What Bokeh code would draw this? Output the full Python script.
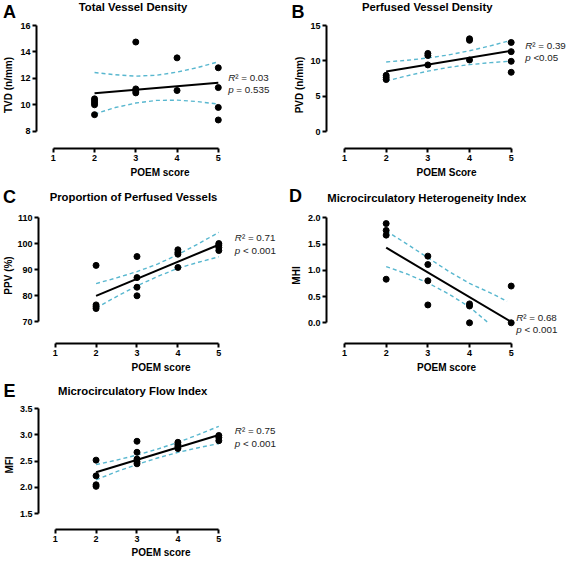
from bokeh.plotting import figure
from bokeh.layouts import column, row
from bokeh.models import Range1d, FixedTicker, NumeralTickFormatter, Label
from bokeh.embed import file_html
from bokeh.resources import INLINE

FONT = "Liberation Sans"
CI_COLOR = "#58b7cf"
ANN_COLOR = "#222222"

# ---------------- data ----------------
poem_ticks = [1, 2, 3, 4, 5]
fit_x = [2, 5]
ci_x = [2, 2.5, 3, 3.5, 4, 4.5, 5]

# A: Total Vessel Density
tvd_x = [2, 2, 2, 2, 2, 3, 3, 3, 3, 4, 4, 5, 5, 5, 5]
tvd_y = [10.45, 10.3, 10.15, 10.0, 9.25, 14.75, 11.2, 11.05, 10.9, 13.55, 11.08, 12.8, 11.3, 9.8, 8.85]
tvd_fit = [10.88, 11.66]
tvd_ci_up = [12.44, 12.27, 12.17, 12.23, 12.47, 12.82, 13.25]
tvd_ci_lo = [9.3, 9.79, 10.13, 10.33, 10.35, 10.24, 10.05]
tvd_ticks = [8, 10, 12, 14, 16]

# B: Perfused Vessel Density
pvd_x = [2, 2, 2, 3, 3, 3, 4, 4, 4, 5, 5, 5, 5]
pvd_y = [7.95, 7.65, 7.35, 11.05, 10.75, 9.42, 13.12, 12.9, 10.12, 12.6, 11.3, 9.93, 8.38]
pvd_fit = [8.49, 11.42]
pvd_ci_up = [9.84, 10.08, 10.40, 10.84, 11.42, 12.12, 12.9]
pvd_ci_lo = [7.12, 7.88, 8.54, 9.08, 9.46, 9.74, 9.96]
pvd_ticks = [0, 5, 10, 15]

# C: Proportion of Perfused Vessels
ppv_x = [2, 2, 2, 2, 3, 3, 3, 3, 4, 4, 4, 4, 5, 5, 5, 5]
ppv_y = [91.7, 76.5, 75.8, 75.1, 95.1, 87.0, 83.3, 80.0, 97.7, 96.7, 96.0, 90.9, 100.1, 99.5, 98.6, 97.4]
ppv_fit = [80.0, 99.65]
ppv_ci_up = [84.7, 86.9, 89.3, 92.2, 95.85, 100.0, 104.4]
ppv_ci_lo = [75.3, 79.7, 83.8, 87.4, 90.6, 92.9, 95.0]
ppv_ticks = [70, 80, 90, 100, 110]

# D: Microcirculatory Heterogeneity Index
mhi_x = [2, 2, 2, 2, 3, 3, 3, 3, 4, 4, 4, 5, 5]
mhi_y = [1.89, 1.76, 1.67, 0.83, 1.27, 1.11, 0.80, 0.34, 0.36, 0.32, 0.0, 0.70, 0.0]
mhi_fit = [1.43, 0.02]
mhi_ci_up_x = [2, 2.5, 3, 3.5, 4, 4.5, 4.9]
mhi_ci_up = [1.75, 1.50, 1.24, 0.98, 0.75, 0.57, 0.41]
mhi_ci_lo_x = [2, 2.5, 3, 3.5, 4, 4.45]
mhi_ci_lo = [1.07, 0.93, 0.76, 0.55, 0.30, 0.0]
mhi_ticks = [0.0, 0.5, 1.0, 1.5, 2.0]

# E: Microcirculatory Flow Index
mfi_x = [2, 2, 2, 2, 3, 3, 3, 3, 3, 4, 4, 4, 4, 5, 5, 5]
mfi_y = [2.52, 2.22, 2.05, 2.02, 2.88, 2.67, 2.54, 2.49, 2.45, 2.86, 2.82, 2.78, 2.74, 2.99, 2.95, 2.89]
mfi_fit = [2.29, 3.0]
mfi_ci_up = [2.435, 2.52, 2.617, 2.73, 2.858, 3.007, 3.165]
mfi_ci_lo = [2.145, 2.30, 2.437, 2.56, 2.668, 2.757, 2.835]
mfi_ticks = [1.5, 2.0, 2.5, 3.0, 3.5]

TOTAL_W = 566


def header(H, items):
    """Full-width strip holding panel letters and panel titles (pixel coords)."""
    h = figure(width=TOTAL_W, height=H, x_range=Range1d(0, TOTAL_W), y_range=Range1d(H, 0),
               x_axis_type=None, y_axis_type=None, output_backend="svg",
               toolbar_location=None, title=None, min_border=0,
               min_border_left=0, min_border_right=0, min_border_top=0, min_border_bottom=0)
    h.outline_line_color = None
    h.background_fill_color = "white"
    h.border_fill_color = "white"
    for text, x, y, size in items:
        h.add_layout(Label(x=x, y=y, text=text, text_font=FONT, text_font_style="bold",
                           text_font_size=size, text_align="center",
                           text_baseline="middle", text_color="black"))
    return h


def make_panel(W, H, frame, xcal, ycal, yticks, yfmt, ytitle, ys, xtitle, xs_, ann):
    fl, ft, fr, fb = frame
    (xv1, xp1), (xv2, xp2) = xcal
    sx = (xp2 - xp1) / (xv2 - xv1)
    x0 = xv1 + (fl - xp1) / sx
    x1 = xv1 + (fr - xp1) / sx
    (yv1, yp1), (yv2, yp2) = ycal
    sy = (yp2 - yp1) / (yv1 - yv2)
    y1 = yv1 + (yp1 - ft) / sy
    y0 = yv2 - (fb - yp2) / sy

    p = figure(width=W, height=H, x_range=Range1d(x0, x1), y_range=Range1d(y0, y1),
               output_backend="svg", toolbar_location=None, title=None,
               min_border_left=fl, min_border_right=W - fr,
               min_border_top=ft, min_border_bottom=H - fb)
    p.outline_line_color = None
    p.xgrid.visible = False
    p.ygrid.visible = False
    p.background_fill_color = "white"
    p.border_fill_color = "white"

    for ax in (p.xaxis[0], p.yaxis[0]):
        ax.axis_line_width = 2
        ax.axis_line_color = "black"
        ax.major_tick_line_width = 2
        ax.major_tick_line_color = "black"
        ax.major_tick_out = 4
        ax.major_tick_in = 0
        ax.minor_tick_out = 0
        ax.minor_tick_in = 0
        ax.major_label_text_font = FONT
        ax.major_label_text_font_style = "bold"
        ax.major_label_text_font_size = "9px"
        ax.major_label_text_color = "black"
        ax.major_label_standoff = 2
        ax.axis_label_text_font = FONT
        ax.axis_label_text_font_style = "bold"
        ax.axis_label_text_font_size = "10px"
        ax.axis_label_text_color = "black"
    p.xaxis[0].ticker = FixedTicker(ticks=poem_ticks)
    p.xaxis[0].bounds = (poem_ticks[0], poem_ticks[-1])
    p.xaxis[0].axis_label = xtitle
    p.xaxis[0].axis_label_standoff = xs_
    p.yaxis[0].ticker = FixedTicker(ticks=yticks)
    p.yaxis[0].bounds = (yticks[0], yticks[-1])
    p.yaxis[0].axis_label = ytitle
    p.yaxis[0].axis_label_standoff = ys
    if yfmt:
        p.yaxis[0].formatter = NumeralTickFormatter(format=yfmt)

    def dx(px):
        return x0 + (px - fl) / sx

    def dy(py):
        return y1 - (py - ft) / sy

    r2txt, ptxt, ax_, r2y, py_ = ann
    for y, t1, t2, off in ((r2y, "R", r2txt, 7.1), (py_, "p", ptxt, 8.2)):
        p.add_layout(Label(x=dx(ax_), y=dy(y), text=t1, text_font=FONT,
                           text_font_style="italic", text_font_size="9.8px",
                           text_align="left", text_baseline="middle", text_color=ANN_COLOR))
        p.add_layout(Label(x=dx(ax_), y=dy(y), x_offset=off, text=t2, text_font=FONT,
                           text_font_size="9.8px", text_align="left",
                           text_baseline="middle", text_color=ANN_COLOR))
    return p


def draw(p, xs, ys, fit, up_x, up, lo_x, lo):
    p.line(up_x, up, line_color=CI_COLOR, line_width=1.4, line_dash="4 3")
    p.line(lo_x, lo, line_color=CI_COLOR, line_width=1.4, line_dash="4 3")
    p.line(fit_x, fit, line_color="black", line_width=2)
    p.scatter(xs, ys, size=6, color="black")


LX = ((1, 50), (5, 217))
RX = ((1, 61), (5, 227.7))

h1 = header(21, [("A", 9, 11.3, "18px"), ("Total Vessel Density", 132.5, 6, "11.3px"),
                 ("B", 297.5, 11.3, "18px"), ("Perfused Vessel Density", 426.7, 6, "11.3px")])
pA = make_panel(283, 165, (33, 0, 283, 127), LX, ((16, 4), (8, 109.7)), tvd_ticks, None,
                "TVD (n/mm)", 3, "POEM score", 3, ("\u00b2 = 0.03", "= 0.535", 227, 55.7, 68))
draw(pA, tvd_x, tvd_y, tvd_fit, ci_x, tvd_ci_up, ci_x, tvd_ci_lo)
pB = make_panel(283, 165, (43, 0, 283, 127), RX, ((15, 4), (0, 110)), pvd_ticks, None,
                "PVD (n/mm)", 2, "POEM Score", 3, ("\u00b2 = 0.39", "<0.05", 241.7, 24, 36.3))
draw(pB, pvd_x, pvd_y, pvd_fit, ci_x, pvd_ci_up, ci_x, pvd_ci_lo)

h2 = header(21, [("C", 9, 10.5, "18px"), ("Proportion of Perfused Vessels", 133, 10.7, "11.3px"),
                 ("D", 295, 9, "18px"), ("Microcirculatory Heterogeneity Index", 426.3, 11.3, "11.3px")])
pC = make_panel(283, 172, (33, 0, 283, 136), LX, ((110, 10.3), (70, 114.3)), ppv_ticks, None,
                "PPV (%)", 0, "POEM score", 3, ("\u00b2 = 0.71", "< 0.001", 233.3, 30.3, 43))
draw(pC, ppv_x, ppv_y, ppv_fit, ci_x, ppv_ci_up, ci_x, ppv_ci_lo)
pD = make_panel(283, 172, (43, 0, 283, 136), RX, ((2.0, 10.3), (0.0, 115.3)), mhi_ticks, "0.0",
                "MHI", 3, "POEM score", 3, ("\u00b2 = 0.68", "< 0.001", 232.7, 109.7, 122))
draw(pD, mhi_x, mhi_y, mhi_fit, mhi_ci_up_x, mhi_ci_up, mhi_ci_lo_x, mhi_ci_lo)

h3 = header(21, [("E", 9, 11, "18px"), ("Microcirculatory Flow Index", 132.2, 11, "11.3px")])
pE = make_panel(283, 160, (33, 0, 283, 130), LX, ((3.5, 8.3), (1.5, 114)), mfi_ticks, "0.0",
                "MFI", 2, "POEM score", 2, ("\u00b2 = 0.75", "< 0.001", 233.3, 30, 43.3))
draw(pE, mfi_x, mfi_y, mfi_fit, ci_x, mfi_ci_up, ci_x, mfi_ci_lo)

layout = column(h1, row(pA, pB), h2, row(pC, pD), h3, row(pE))
open("out.html", "w").write(file_html(layout, INLINE))
